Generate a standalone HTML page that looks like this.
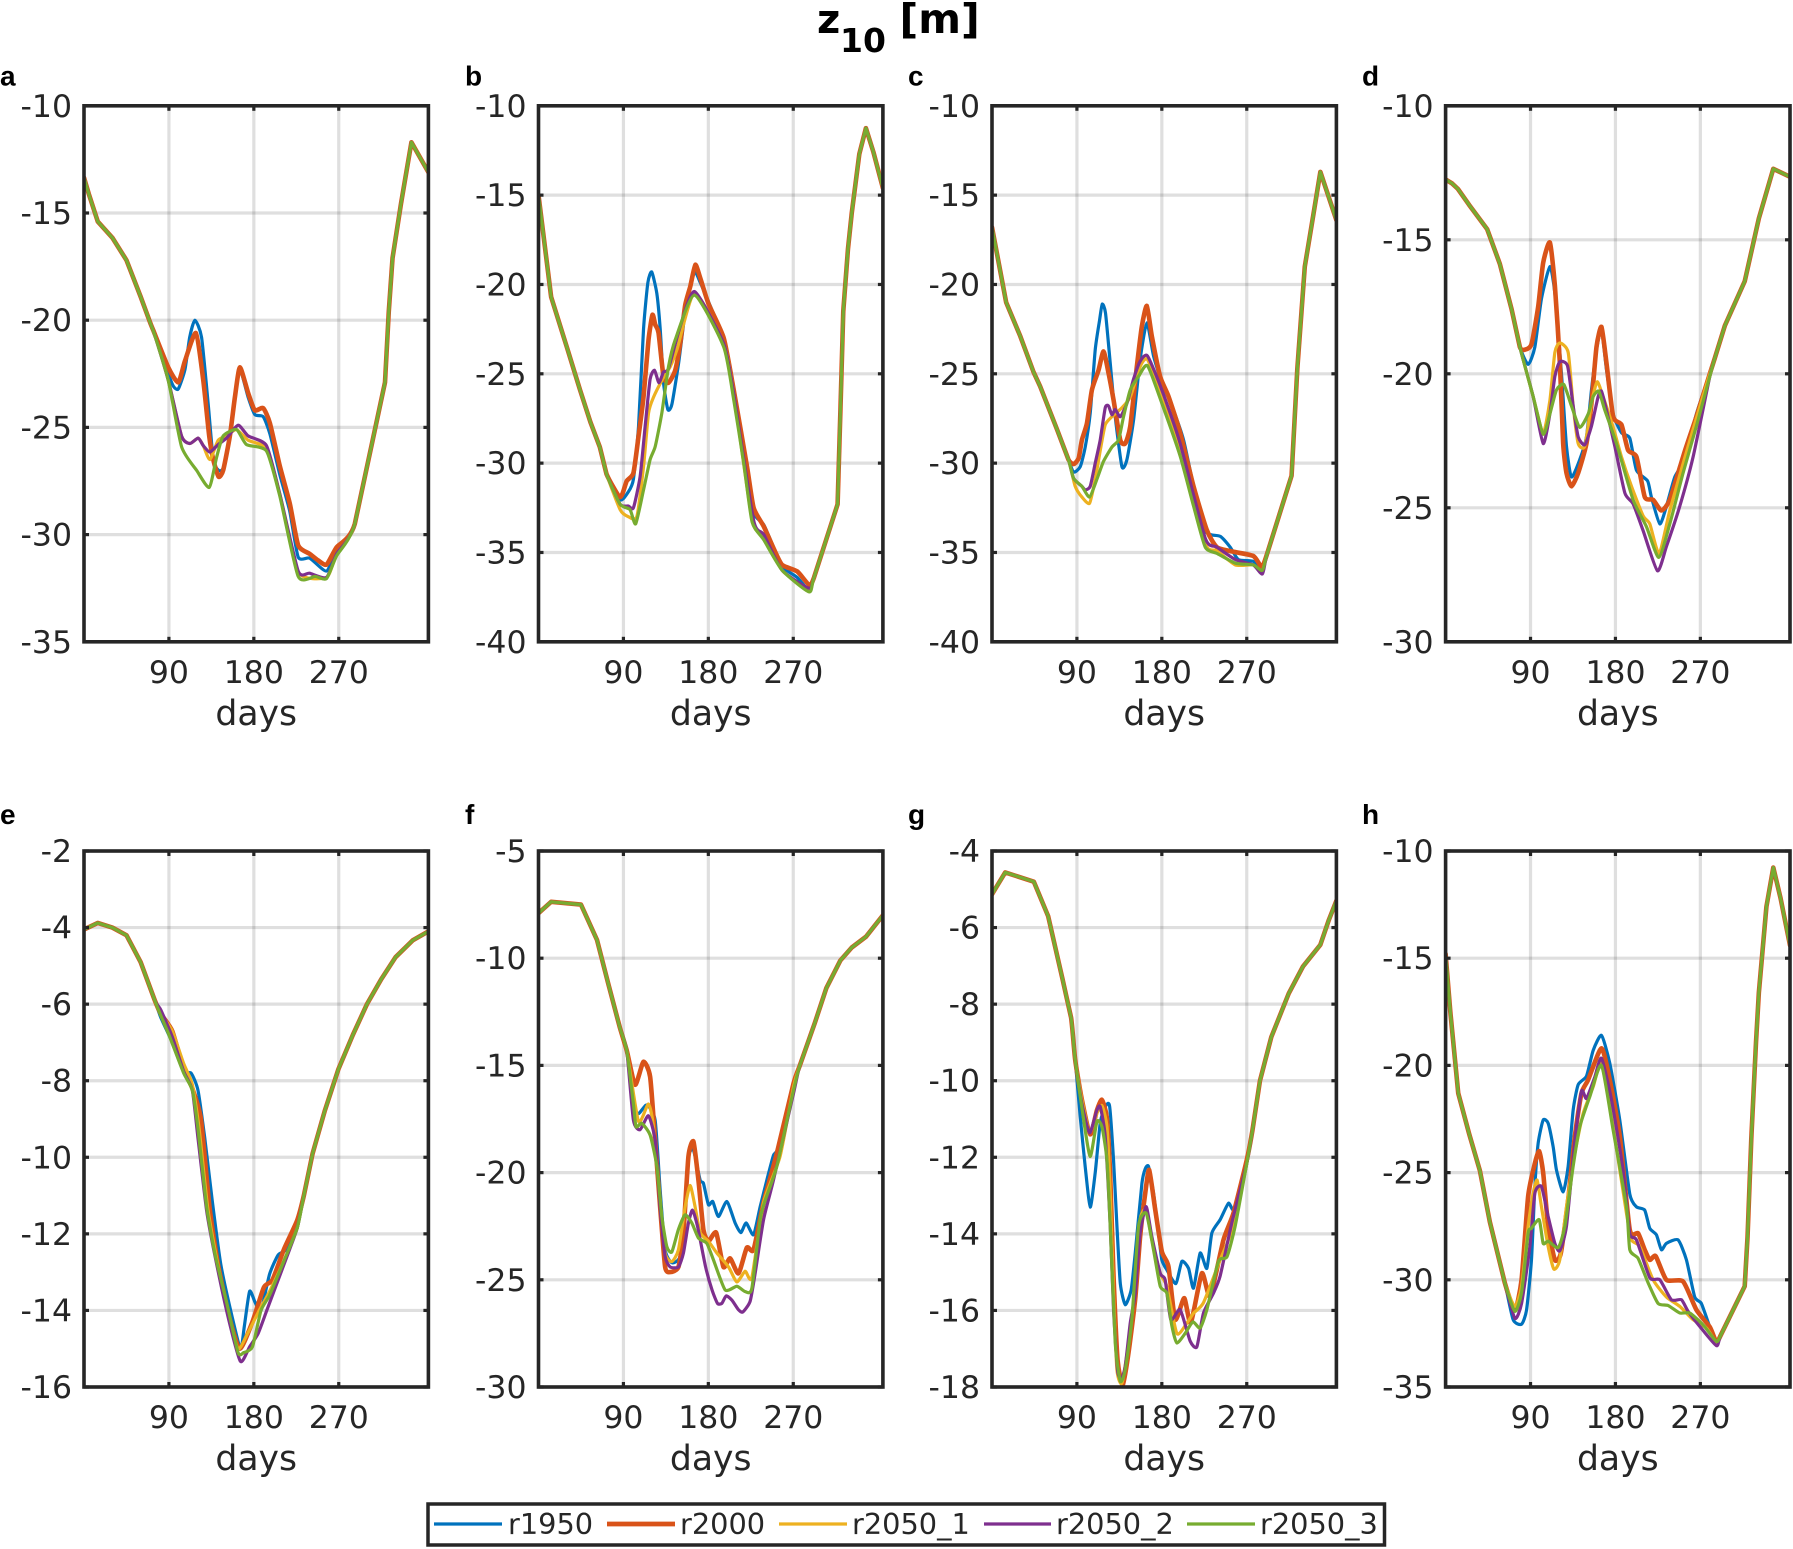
<!DOCTYPE html>
<html lang="en">
<head>
<meta charset="utf-8">
<title>z10 [m] seasonal panels</title>
<style>
html,body{margin:0;padding:0;background:#fff;}
svg{display:block;}
text{font-family:"DejaVu Sans","Liberation Sans",sans-serif;fill:#262626;}
.letter{font-family:"Liberation Sans",sans-serif;font-weight:bold;font-size:28px;fill:#000;}
.ttl{font-family:"DejaVu Sans",sans-serif;font-weight:bold;fill:#000;}
</style>
</head>
<body>
<svg id="fig" xmlns="http://www.w3.org/2000/svg" width="1793" height="1549" viewBox="0 0 1793 1549">
  <rect x="0" y="0" width="1793" height="1549" fill="#fff"/>
  <g id="panels"></g>
  <g>
    <text class="ttl" x="817" y="33" font-size="40">z</text>
    <text class="ttl" x="840" y="52" font-size="33">10</text>
    <text class="ttl" x="899.5" y="33" font-size="41">[m]</text>
  </g>
  <g>
    <rect x="428" y="1504" width="956.5" height="41" fill="#fff" stroke="#262626" stroke-width="3.5"/>
    <g>
      <line x1="434" x2="502" y1="1524" y2="1524" stroke="#0072BD" stroke-width="3.2"/>
      <text x="508" y="1534" font-size="28.8">r1950</text>
    </g>
    <g>
      <line x1="607" x2="675" y1="1524" y2="1524" stroke="#D95319" stroke-width="4.8"/>
      <text x="680" y="1534" font-size="28.8">r2000</text>
    </g>
    <g>
      <line x1="779" x2="847" y1="1524" y2="1524" stroke="#EDB120" stroke-width="3.2"/>
      <text x="852" y="1534" font-size="28.8">r2050_1</text>
    </g>
    <g>
      <line x1="984" x2="1051" y1="1524" y2="1524" stroke="#7E2F8E" stroke-width="3.2"/>
      <text x="1056" y="1534" font-size="28.8">r2050_2</text>
    </g>
    <g>
      <line x1="1187" x2="1255" y1="1524" y2="1524" stroke="#77AC30" stroke-width="3.2"/>
      <text x="1260" y="1534" font-size="28.8">r2050_3</text>
    </g>
  </g>
</svg>
<script>
// ---------- shared axis data ----------
const xTickValues = [90, 180, 270];
const xDomainMax = 365;
const seriesNames = ['r1950', 'r2000', 'r2050_1', 'r2050_2', 'r2050_3'];
const seriesColors = ['#0072BD', '#D95319', '#EDB120', '#7E2F8E', '#77AC30'];
const seriesWidths = [3.2, 4.6, 3.2, 3.2, 3.2];

// ---------- panel a ----------
const aTicks = [-10, -15, -20, -25, -30, -35];
const aHeadDays = [0, 5, 14.6, 30, 45, 60, 70];
const aHeadVals = [-13.35, -14.1, -15.4, -16.15, -17.2, -18.9, -20.1];
const aTailDays = [287, 319, 323, 327, 336, 347, 365];
const aTailVals = [-29.5, -22.9, -19.6, -17.1, -14.55, -11.7, -13.1];
const aDays1950 = [75, 89.3, 95, 100, 107, 112, 117.5, 124.6, 131.6, 137, 142.6, 147.5, 154.6, 159.9, 165.2, 174, 181, 189.9, 197, 207.5, 218, 227, 239.3, 257, 267.6];
const aVals1950 = [-20.7, -22.5, -23.1, -23.2, -22.3, -20.8, -20, -20.8, -23.9, -26.5, -27, -26.9, -25.5, -23.7, -22.3, -23.6, -24.4, -24.5, -25.3, -27.2, -28.9, -31.05, -31.1, -31.7, -30.7];
const aDays2000 = [73.4, 89.3, 99.9, 107, 118.6, 126.4, 132.7, 137, 142.6, 147.5, 154.6, 159.9, 165.2, 174, 181, 189.9, 197, 207.5, 218.1, 227, 239.3, 248, 257, 267.6];
const aVals2000 = [-20.47, -22.2, -22.9, -21.9, -20.6, -22.8, -25.4, -26.5, -27.3, -27, -25.4, -23.6, -22.2, -23.4, -24.2, -24.1, -24.8, -26.8, -28.55, -30.5, -30.9, -31.2, -31.4, -30.6];
const aDays2050a = [75, 89.3, 103.4, 112.2, 121, 126.4, 133.4, 142.2, 151, 161.6, 174, 193.4, 207.5, 227, 257, 267.6];
const aVals2050a = [-20.7, -22.8, -25.4, -25.75, -25.5, -25.85, -26.5, -25.6, -25.4, -25.1, -25.6, -26, -28.1, -31.75, -32, -30.9];
const aDays2050b = [75, 89.3, 103.4, 112.2, 121, 126.4, 133.4, 142.2, 151, 163.4, 174, 193.4, 207.5, 227, 239, 257, 267.6];
const aVals2050b = [-20.7, -22.8, -25.4, -25.75, -25.5, -25.85, -26.15, -25.8, -25.5, -24.9, -25.4, -25.85, -28.1, -31.7, -31.8, -32, -30.9];
const aDays2050c = [75, 89.3, 103.4, 119.3, 132.7, 140.5, 147.5, 161.6, 172.2, 193.4, 207.5, 227, 245, 257, 267.6];
const aVals2050c = [-20.7, -22.8, -25.9, -27, -27.8, -26.4, -25.4, -25.1, -25.8, -26.1, -28.2, -31.95, -31.95, -32.05, -31];

// ---------- panel b ----------
const bTicks = [-10, -15, -20, -25, -30, -35, -40];
const bHeadDays = [0, 13.4, 30, 44, 55, 65, 72];
const bHeadVals = [-15, -20.7, -23.5, -25.9, -27.7, -29.1, -30.6];
const bTailDays = [292, 317, 320, 323, 328, 332, 340, 347, 355, 365];
const bTailVals = [-36.4, -32.3, -27, -21.5, -18, -16, -12.7, -11.25, -12.6, -14.6];
const bDays1950 = [86.5, 95.3, 100.6, 106, 111.3, 115.9, 120, 125.4, 129, 132.5, 137.1, 141.4, 148.5, 153.8, 159, 165.5, 171.5, 182, 196.3, 206.9, 221, 228, 238.8, 249.4, 258.3, 274.2, 286.6];
const bVals1950 = [-32.05, -31.6, -30.9, -27.95, -22.5, -19.9, -19.3, -20.5, -22.5, -25.5, -27, -26.7, -24.4, -22.2, -20.5, -19.3, -19.9, -21.2, -23.1, -25.9, -30.4, -32.8, -33.45, -34.75, -35.8, -36.4, -37.1];
const bDays2000 = [86.5, 93.5, 100.6, 106, 111.3, 116.6, 120.8, 123.7, 127.2, 132.5, 137.8, 144.9, 150.2, 155.5, 160.9, 166.2, 171.5, 180.3, 196.3, 206.9, 221, 228, 238.8, 249.4, 258.3, 274.2, 286.6];
const bVals2000 = [-31.9, -31, -30.55, -28.5, -26.3, -23.1, -21.7, -22.25, -22.7, -25.15, -25.5, -24.8, -23.3, -21.15, -20.1, -18.9, -19.65, -21.1, -23, -25.9, -30.2, -32.5, -33.55, -34.8, -35.7, -36.06, -36.8];
const bDays2050a = [86.5, 95.3, 104.2, 111.3, 116.6, 122, 132.5, 139.6, 146.7, 165.5, 196.3, 206.9, 226.4, 238.8, 258.3, 286.6];
const bVals2050a = [-32.6, -33, -33, -30.2, -27.2, -26.3, -25.2, -24.6, -23.65, -20.5, -23.3, -26.1, -33.2, -34.1, -36, -37.1];
const bDays2050b = [86.5, 95.3, 100.6, 107.7, 113, 118.3, 123, 127.6, 132.5, 137.8, 150.2, 165.5, 196.3, 206.9, 228, 238.8, 258.3, 286.6];
const bVals2050b = [-32.3, -32.4, -32.5, -30.75, -27.95, -25.3, -24.8, -25.5, -24.9, -24.7, -22.35, -20.4, -23.3, -26.1, -33.2, -34, -36, -37];
const bDays2050c = [86.5, 97, 103, 111.3, 118.3, 123.7, 130.7, 137.8, 144.9, 165.5, 196.3, 206.9, 217.5, 226.4, 238.8, 258.3, 286.6];
const bVals2050c = [-32.3, -32.6, -33.4, -31.5, -29.8, -29.07, -27.2, -24.6, -23.1, -20.6, -23.5, -26.45, -30, -33.3, -34.3, -36, -37.2];

// ---------- panel c ----------
const cTicks = [-10, -15, -20, -25, -30, -35, -40];
const cHeadDays = [0, 5, 15, 30, 44, 51, 68.8, 81];
const cHeadVals = [-16.8, -18.2, -21, -22.9, -24.9, -25.7, -28.1, -29.8];
const cTailDays = [292, 317.5, 323.6, 331.5, 339, 348, 365];
const cTailVals = [-35, -30.7, -24.7, -19, -16.6, -13.7, -16.4];
const cDays1950 = [86.5, 93.5, 98.8, 104.1, 109.4, 114, 116.8, 120.3, 125.3, 130.6, 137.7, 143, 150, 157, 164.1, 171.2, 180, 190.6, 203, 215.3, 227, 242, 252.4, 261.2, 277, 286];
const cVals1950 = [-30.5, -30.2, -29.1, -27.2, -23.65, -22, -21.1, -21.6, -24.4, -27.4, -30.2, -29.8, -27.6, -24.2, -22.15, -24, -25.5, -26.8, -28.7, -31.7, -33.85, -34.1, -34.7, -35.4, -35.5, -36.1];
const cDays2000 = [86.5, 91.8, 95.3, 100.6, 105.9, 112.9, 118.2, 123.5, 128.8, 135.9, 141.2, 146.5, 153.5, 158.8, 164.1, 169.4, 178.2, 187.1, 199.4, 213.6, 227.7, 238.3, 256, 277.1, 285.9];
const cVals2000 = [-30.05, -29.73, -28.7, -27.77, -25.9, -24.8, -23.75, -24.96, -26.46, -28.7, -28.9, -27.95, -24.6, -22.35, -21.2, -22.9, -25.15, -26.27, -28.3, -31.3, -33.75, -34.7, -34.96, -35.2, -35.8];
const cDays2050a = [88.2, 95.3, 103.4, 109.4, 114.7, 120, 127.1, 137.7, 146.5, 157, 164.8, 180, 199.4, 226, 238.3, 258, 277, 286];
const cVals2050a = [-31.3, -31.9, -32.25, -30.9, -29.3, -27.85, -27.4, -26.9, -26.3, -24.6, -24.2, -26.3, -29.3, -34.5, -34.9, -35.7, -35.7, -36.1];
const cDays2050b = [86.5, 95.3, 98.8, 104.1, 109.4, 114.7, 120, 123.5, 127.1, 130.6, 135.9, 143, 150, 157, 164.8, 180, 199.4, 226, 238.3, 258, 277, 286.6];
const cVals2050b = [-30.85, -31.3, -31.5, -31.3, -30, -28.7, -26.9, -26.8, -27.3, -27, -27.4, -26.65, -25.3, -24.3, -24, -25.9, -28.9, -34.2, -34.7, -35.4, -35.7, -36.2];
const cDays2050c = [86.5, 95.3, 103.4, 111.2, 118.2, 127.1, 134.1, 139.4, 146.5, 155.3, 164.8, 180, 199.4, 213.6, 226, 238.3, 258, 277, 286.6];
const cVals2050c = [-30.85, -31.3, -31.9, -30.9, -29.9, -29.1, -28.7, -27.4, -25.9, -25.15, -24.55, -26.65, -29.6, -32.4, -34.7, -35.05, -35.6, -35.7, -36];

// ---------- panel d ----------
const dTicks = [-10, -15, -20, -25, -30];
const dHeadDays = [0, 7, 13, 25, 44, 57.5, 70, 78.7];
const dHeadVals = [-12.75, -12.9, -13.1, -13.7, -14.6, -15.9, -17.6, -19];
const dTailDays = [285, 296, 317, 332, 347.3, 365];
const dTailVals = [-19.45, -18.2, -16.55, -14.2, -12.35, -12.65];
const dDays1950 = [87.5, 94.6, 101.6, 110.5, 115.8, 122.8, 128.1, 133.4, 142.2, 149.3, 154.6, 159.9, 165.2, 170.5, 177.6, 186.4, 195.2, 202.3, 214.1, 218.1, 227, 234, 242.9, 253.4, 265.8, 280];
const dVals1950 = [-19.65, -19, -17.2, -16, -17, -20, -22.7, -23.85, -23.2, -22.35, -20.6, -19.1, -18.35, -19.85, -21.5, -22.2, -22.4, -23.6, -24, -24.6, -25.6, -24.95, -23.85, -23.2, -21.5, -20];
const dDays2000 = [84, 91, 98.1, 103.4, 110.5, 115.8, 121.1, 124.6, 128.1, 133.4, 140.5, 149.3, 154.6, 159.9, 165.2, 170.5, 177.6, 186.4, 193.4, 202.3, 211.1, 219.9, 228.7, 237.6, 253.4, 265.8, 280];
const dVals2000 = [-19.1, -18.9, -17.5, -15.86, -15.1, -16.7, -19.6, -22.6, -23.7, -24.2, -23.7, -22.6, -21.1, -19, -18.25, -19.6, -21.6, -21.9, -22.85, -23.1, -24.6, -24.7, -25.1, -24.7, -22.9, -21.6, -20];
const dDays2050a = [92.8, 103.4, 110.5, 115.8, 121, 129.9, 135.2, 140.5, 147.5, 154.6, 160.6, 166.9, 177.6, 186.4, 197, 209.3, 216.4, 226.3, 237.6, 251.7, 265.8, 280];
const dVals2050a = [-20.85, -22.2, -21, -19.2, -18.85, -19.2, -21.2, -22.6, -22.7, -21.1, -20.3, -20.85, -22, -23.1, -24.2, -25.3, -25.6, -26.7, -25.1, -23.35, -21.65, -20];
const dDays2050b = [92.8, 103.4, 110.5, 115.8, 121, 129.2, 135.2, 140.5, 147.5, 154.6, 161.7, 165.2, 170.5, 179.3, 190, 198.7, 209.3, 224.5, 234, 248.1, 262.3, 280];
const dVals2050b = [-20.85, -22.6, -21.5, -20.1, -19.55, -19.7, -21.2, -22.35, -22.65, -21.95, -20.85, -20.65, -21.35, -22.7, -24.45, -24.85, -25.85, -27.35, -26.45, -24.95, -23.1, -20.1];
const dDays2050c = [92.8, 103.4, 110.5, 117.5, 125.3, 133.4, 142.2, 151.1, 156.4, 162.4, 168.7, 181.1, 198.7, 212.8, 225.9, 237.6, 251.7, 265.8, 280];
const dVals2050c = [-20.85, -22.25, -21.5, -20.6, -20.4, -21.2, -22, -21.5, -20.85, -20.65, -21.35, -22.6, -24.7, -25.7, -26.85, -25.6, -23.7, -21.95, -20.1];

// ---------- panel e ----------
const eTicks = [-2, -4, -6, -8, -10, -12, -14, -16];
const eHeadDays = [0, 14.6, 30, 45, 60, 75];
const eHeadVals = [-4.05, -3.88, -4, -4.2, -4.9, -5.9];
const eTailDays = [233, 242.3, 255, 269.6, 285, 299.9, 315, 330.3, 348.5, 365];
const eTailVals = [-11, -9.9, -8.8, -7.7, -6.8, -6, -5.35, -4.77, -4.33, -4.1];
const eDays1950 = [81.4, 93.5, 105.6, 113.5, 120.8, 128, 136, 145, 157.3, 166, 170, 175.5, 181.5, 187.6, 196.7, 205.8, 215, 225.9];
const eVals1950 = [-6.35, -7, -7.77, -7.8, -8.25, -9.5, -11.15, -12.8, -14.2, -15, -14.4, -13.5, -13.8, -14, -13.05, -12.55, -12.4, -11.85];
const eDays2000 = [81.4, 93.5, 105.6, 114.8, 123.9, 133, 142, 154.2, 165.2, 178.5, 190.6, 199.8, 212, 225.9];
const eVals2000 = [-6.25, -6.7, -7.7, -8.2, -9, -11.3, -12.8, -14.2, -15, -14.3, -13.4, -13.2, -12.4, -11.65];
const eDays2050a = [81.4, 93.5, 105.6, 114.8, 122, 131, 141, 153, 163.3, 172.4, 184.6, 196.7, 212, 225.9];
const eVals2050a = [-6.25, -6.7, -7.55, -8.1, -9.25, -11.3, -12.7, -14.1, -15, -14.65, -14.05, -13.5, -12.7, -11.85];
const eDays2050b = [81.4, 93.5, 105.6, 114.8, 120.8, 130, 139, 153, 165.8, 175.5, 184.6, 193.7, 202.8, 218, 225.9];
const eVals2050b = [-6.15, -6.85, -7.75, -8.25, -9.5, -11.4, -12.6, -14.2, -15.33, -14.95, -14.6, -14, -13.4, -12.4, -11.85];
const eDays2050c = [81.4, 90, 105.6, 114.8, 120.8, 130, 139, 151.2, 163.3, 169.4, 178.5, 187.6, 196.7, 212, 225.9];
const eVals2050c = [-6.3, -6.8, -7.8, -8.25, -9.26, -11.3, -12.55, -13.8, -15.1, -15.1, -14.95, -14, -13.6, -12.7, -11.85];

// ---------- panel f ----------
const fTicks = [-5, -10, -15, -20, -25, -30];
const fHeadDays = [0, 13.4, 45, 62, 74, 86];
const fHeadVals = [-7.9, -7.37, -7.5, -9.15, -11.2, -13.2];
const fTailDays = [277, 293, 305, 320, 332, 347, 365];
const fTailVals = [-15, -13, -11.4, -10.1, -9.5, -9, -8];
const fDays1950 = [93.5, 100.6, 105.9, 114.7, 123.6, 128.9, 134.2, 141.3, 150, 155.4, 158.9, 164.2, 171.3, 174.8, 180.1, 184.7, 190.7, 199.6, 208.4, 214.4, 220.1, 227.9, 234.9, 242, 249, 254.4, 270.3];
const fVals1950 = [-14.3, -16.8, -17.25, -16.85, -17.55, -20.8, -23.6, -24.2, -23.9, -21.6, -19.25, -18.95, -20.35, -20.5, -21.5, -21.35, -22.05, -21.35, -22.35, -22.8, -22.35, -22.9, -21.6, -20.35, -19.2, -18.8, -15.84];
const fDays2000 = [93.5, 102.4, 111.2, 118.3, 123.6, 128.9, 134.2, 139.5, 148.3, 153.6, 158.9, 164.2, 169.5, 174.8, 180.1, 188.3, 196, 203.1, 211.9, 220.8, 227.9, 238.5, 252.6, 270.3];
const fVals2000 = [-14.3, -15.9, -14.83, -15.53, -18.5, -21.6, -24.4, -24.64, -24.4, -22.8, -19.25, -18.55, -20.35, -22.67, -23.2, -22.8, -24.4, -24, -24.7, -23.5, -23.6, -21.4, -19.1, -15.84];
const fDays2050a = [93.5, 105.9, 116.5, 121.8, 128.9, 134.2, 141.3, 148.3, 155.4, 160.7, 166, 171.3, 180.1, 189, 201.4, 210.2, 219, 226.1, 238.5, 256, 270.3];
const fVals2050a = [-14.3, -17.6, -16.8, -17.85, -21.3, -23.75, -24.15, -23.6, -21.6, -20.6, -21.6, -22.8, -23.2, -23.75, -24.4, -25.1, -24.6, -24.9, -21.4, -19.25, -16];
const fDays2050b = [93.5, 100.6, 107.7, 116.5, 123.6, 128.9, 134.2, 139.5, 148.3, 153.6, 158.9, 163.2, 168.5, 177.1, 184.1, 189.7, 194.3, 198.9, 205, 212, 216.6, 224.3, 229.6, 238.5, 249, 270.3];
const fVals2050b = [-14.3, -17.55, -18, -17.35, -18.5, -21.6, -23.9, -24.4, -24.4, -23.75, -22.35, -21.75, -22.5, -24.4, -25.5, -26.1, -26.1, -25.75, -25.95, -26.4, -26.5, -26, -24.7, -22.2, -20.35, -16.3];
const fDays2050c = [93.5, 100.6, 103.4, 109.4, 118.3, 125.4, 130.7, 136, 141.3, 148.3, 155.4, 162.5, 169.5, 178.4, 185.4, 197.8, 210.2, 219, 226.1, 234.9, 240.2, 252.6, 270.3];
const fVals2050c = [-14.3, -16.8, -17.86, -17.7, -18.25, -19.7, -22.05, -23.45, -23.7, -22.65, -21.97, -22.35, -23.05, -23.3, -24.07, -25.47, -25.3, -25.55, -25.4, -22.2, -21.3, -19.7, -16.15];

// ---------- panel g ----------
const gTicks = [-4, -6, -8, -10, -12, -14, -16, -18];
const gHeadDays = [0, 14, 44.3, 59.5, 74.7, 83.8];
const gHeadVals = [-5.13, -4.56, -4.8, -5.7, -7.34, -8.35];
const gTailDays = [276, 284, 296, 314.5, 329.5, 348, 357, 365];
const gTailVals = [-11.3, -10, -8.86, -7.72, -7.02, -6.45, -5.8, -5.3];
const gDays1950 = [88.2, 93.5, 98.8, 104.1, 109.4, 114.7, 120, 124.6, 128.8, 132.4, 136, 141.2, 147.5, 151.8, 158.9, 162.4, 165.9, 171.2, 176.5, 180, 185.3, 194.8, 201.2, 208.3, 213.6, 220.6, 227.7, 233, 241.8, 250.6, 256, 264.7, 270];
const gVals1950 = [-9.46, -10.94, -12.25, -13.3, -12.4, -11.1, -10.68, -10.66, -12.07, -13.8, -15.3, -15.85, -15.46, -14.5, -12.68, -12.3, -12.24, -12.94, -13.98, -14.68, -14.94, -15.3, -14.72, -14.9, -15.42, -14.5, -14.9, -13.98, -13.63, -13.2, -13.37, -12.77, -12.16];
const gDays2000 = [88.2, 95.3, 104.1, 111.2, 116.5, 121.8, 125.3, 128.8, 133.1, 138.7, 144.7, 151.8, 157, 162.4, 166.6, 173, 180, 187, 194.1, 203.7, 210.7, 222.4, 231.2, 245.3, 255.9, 270];
const gVals2000 = [-9.46, -10.5, -11.4, -10.77, -10.5, -10.98, -12.5, -15.1, -17.3, -17.95, -17.1, -15.7, -14.07, -12.94, -12.33, -13.37, -14.46, -14.85, -16.24, -15.68, -16.33, -15.03, -15.63, -14.16, -13.46, -12.07];
const gDays2050a = [88.2, 95.3, 103.4, 111.2, 116.5, 121.8, 125.3, 128.8, 132.4, 137.7, 144.7, 151.8, 157, 163.4, 169.4, 178.3, 185.3, 195.9, 206.5, 213.6, 224.1, 241.8, 255.9, 270];
const gVals2050a = [-9.46, -10.5, -11.35, -10.85, -10.65, -11.2, -12.9, -15.55, -17.55, -17.9, -16.85, -15.37, -13.63, -13.37, -14.16, -15.03, -15.37, -16.6, -16.33, -16.07, -15.8, -14.68, -13.8, -12.16];
const gDays2050b = [88.2, 95.3, 103.4, 111.2, 114.7, 120, 125.3, 128.8, 133, 136.9, 141.2, 146.5, 151.8, 157, 163.4, 169.4, 178.3, 183.5, 189.5, 199.4, 210, 217.1, 224.1, 234.7, 241.8, 254.1, 270];
const gVals2050b = [-9.46, -10.6, -11.36, -10.77, -10.68, -11.46, -13.8, -15.98, -17.55, -17.8, -17.46, -16.33, -15.55, -13.98, -13.29, -14.07, -15.03, -15.2, -16.24, -15.98, -16.8, -16.95, -16.07, -15.55, -15.1, -13.72, -12.16];
const gDays2050c = [88.2, 97, 104.1, 111.2, 116.5, 121.8, 125.3, 130.6, 136, 141.2, 148.2, 155.3, 163.4, 171.2, 178.3, 185.3, 190.6, 195.9, 204.7, 212.9, 220.6, 227.7, 240, 249, 257.7, 270];
const gVals2050c = [-9.46, -11, -11.98, -11.07, -11.2, -12.07, -13.8, -16.85, -17.85, -17.55, -16.24, -13.8, -13.46, -14.42, -15.37, -15.55, -16.4, -16.85, -16.6, -16.3, -16.46, -15.98, -14.72, -14.6, -13.8, -12.16];

// ---------- panel h ----------
const hTicks = [-10, -15, -20, -25, -30, -35];
const hHeadDays = [0, 5, 13.4, 25, 36.3, 46.9, 62.8];
const hHeadVals = [-14.8, -17.5, -21.3, -23.2, -24.9, -27.3, -30.15];
const hTailDays = [292, 317, 320, 324, 329, 332, 340, 347.3, 355, 365];
const hTailVals = [-32.55, -30.3, -28, -23.4, -18.9, -16.6, -12.6, -10.77, -12.2, -14.4];
const hDays1950 = [71.6, 80.5, 85.8, 91, 94.6, 98.1, 103.4, 108.7, 114, 117.5, 124.6, 129.9, 135.2, 140.5, 149.3, 156.4, 165.2, 174, 184.6, 195.2, 202.3, 211, 216.4, 223.4, 228.7, 234, 246.4, 255.2, 264, 271, 280, 287];
const hVals1950 = [-31.86, -32.07, -31.4, -29.07, -25.65, -23.63, -22.55, -22.7, -23.8, -24.88, -25.9, -24.7, -22.08, -20.9, -20.5, -19.3, -18.6, -19.9, -22.55, -26, -26.6, -26.75, -27.6, -27.9, -28.6, -28.3, -28.14, -29.07, -30.8, -31.1, -32.2, -32.95];
const hDays2000 = [73.4, 80.5, 87.5, 94.6, 99.2, 103.4, 108.7, 115.8, 122.1, 129.9, 137, 144, 151, 165.2, 174, 184.6, 195.2, 204, 211, 216.4, 222.7, 234, 251.7, 265.8, 280, 287];
const hVals2000 = [-31.4, -30, -26.1, -24.57, -24, -25, -27.5, -29.07, -28.76, -26.27, -23.3, -21.3, -20.68, -19.2, -20.68, -23.3, -27.67, -27.83, -28.6, -29.07, -28.9, -30, -30.08, -31.4, -32.2, -32.9];
const hDays2050a = [73.4, 80.5, 87.5, 92.8, 97, 101.6, 108.7, 114.7, 121, 128.1, 137, 145.8, 156.4, 165.2, 177.5, 191.7, 197, 205.8, 219.9, 234, 248.2, 262.3, 276.4, 287];
const hVals2050a = [-31.24, -30.3, -27.5, -25.96, -25.35, -26.6, -28.45, -29.5, -29.07, -26.6, -24.1, -22.24, -21, -19.9, -22.86, -26.9, -28.14, -28.45, -30, -30.8, -31.24, -31.86, -32.25, -32.9];
const hDays2050b = [73.4, 80.5, 89.3, 94.6, 101.6, 108.7, 115.8, 121, 128.1, 137, 144, 149.3, 158.2, 165.2, 175.8, 188.1, 195.2, 202.3, 216.4, 227, 239.3, 249.9, 257, 269.3, 287];
const hVals2050b = [-31.8, -31.1, -28.45, -25.96, -25.65, -27.05, -28.3, -28.65, -27.5, -23.5, -21.2, -21.54, -20.53, -19.67, -21.6, -24.88, -27.83, -28.14, -29.9, -30, -30.93, -30.93, -31.47, -32.17, -33.07];
const hDays2050c = [73.4, 80.5, 87.5, 91, 99.2, 103.4, 108.7, 119.3, 126.4, 135.2, 142.2, 152.8, 165.2, 177.5, 191.7, 195.2, 204, 214.7, 225.2, 235.9, 248.2, 258.8, 272.9, 287];
const hVals2050c = [-31.47, -30.6, -27.83, -27.6, -27.2, -28.3, -28.2, -28.5, -27.5, -24.7, -22.86, -21.46, -20, -23, -26.6, -28.6, -29, -30.15, -31.1, -31.2, -31.55, -31.55, -32.1, -32.87];

// ---------- layout constants ----------
const colLefts = [84, 538.5, 992, 1445.6];
const rowTops = [105.8, 851];
const letterLefts = [0, 465, 908, 1362];
const letterBaselines = [85.3, 824];
const axesWidth = 344.4;
const axesHeight = 536;

const panels = [
  {id:'a', c:0, r:0, ticks:aTicks, hd:aHeadDays, hv:aHeadVals, td:aTailDays, tv:aTailVals, s:[[aDays1950,aVals1950],[aDays2000,aVals2000],[aDays2050a,aVals2050a],[aDays2050b,aVals2050b],[aDays2050c,aVals2050c]]},
  {id:'b', c:1, r:0, ticks:bTicks, hd:bHeadDays, hv:bHeadVals, td:bTailDays, tv:bTailVals, s:[[bDays1950,bVals1950],[bDays2000,bVals2000],[bDays2050a,bVals2050a],[bDays2050b,bVals2050b],[bDays2050c,bVals2050c]]},
  {id:'c', c:2, r:0, ticks:cTicks, hd:cHeadDays, hv:cHeadVals, td:cTailDays, tv:cTailVals, s:[[cDays1950,cVals1950],[cDays2000,cVals2000],[cDays2050a,cVals2050a],[cDays2050b,cVals2050b],[cDays2050c,cVals2050c]]},
  {id:'d', c:3, r:0, ticks:dTicks, hd:dHeadDays, hv:dHeadVals, td:dTailDays, tv:dTailVals, s:[[dDays1950,dVals1950],[dDays2000,dVals2000],[dDays2050a,dVals2050a],[dDays2050b,dVals2050b],[dDays2050c,dVals2050c]]},
  {id:'e', c:0, r:1, ticks:eTicks, hd:eHeadDays, hv:eHeadVals, td:eTailDays, tv:eTailVals, s:[[eDays1950,eVals1950],[eDays2000,eVals2000],[eDays2050a,eVals2050a],[eDays2050b,eVals2050b],[eDays2050c,eVals2050c]]},
  {id:'f', c:1, r:1, ticks:fTicks, hd:fHeadDays, hv:fHeadVals, td:fTailDays, tv:fTailVals, s:[[fDays1950,fVals1950],[fDays2000,fVals2000],[fDays2050a,fVals2050a],[fDays2050b,fVals2050b],[fDays2050c,fVals2050c]]},
  {id:'g', c:2, r:1, ticks:gTicks, hd:gHeadDays, hv:gHeadVals, td:gTailDays, tv:gTailVals, s:[[gDays1950,gVals1950],[gDays2000,gVals2000],[gDays2050a,gVals2050a],[gDays2050b,gVals2050b],[gDays2050c,gVals2050c]]},
  {id:'h', c:3, r:1, ticks:hTicks, hd:hHeadDays, hv:hHeadVals, td:hTailDays, tv:hTailVals, s:[[hDays1950,hVals1950],[hDays2000,hVals2000],[hDays2050a,hVals2050a],[hDays2050b,hVals2050b],[hDays2050c,hVals2050c]]}
];

const NS = 'http://www.w3.org/2000/svg';
const root = document.getElementById('panels');

function make(tag, attrs, parent) {
  const el = document.createElementNS(NS, tag);
  for (const k in attrs) el.setAttribute(k, attrs[k]);
  parent.appendChild(el);
  return el;
}

// Head and tail stretches are drawn straight so their knees stay sharp; the divergent middle is lightly smoothed.
function smoothPath(pts, headCount, tailCount) {
  let d = 'M' + pts[0][0].toFixed(2) + ' ' + pts[0][1].toFixed(2);
  for (let i = 0; i < pts.length - 1; i++) {
    const straight = i < headCount - 1 || i >= pts.length - tailCount;
    const k = straight ? 0 : 1 / 10;
    const p0 = pts[Math.max(i - 1, 0)], p1 = pts[i], p2 = pts[i + 1], p3 = pts[Math.min(i + 2, pts.length - 1)];
    const c1x = p1[0] + (p2[0] - p0[0]) * k, c1y = p1[1] + (p2[1] - p0[1]) * k;
    const c2x = p2[0] - (p3[0] - p1[0]) * k, c2y = p2[1] - (p3[1] - p1[1]) * k;
    d += 'C' + c1x.toFixed(2) + ' ' + c1y.toFixed(2) + ' ' + c2x.toFixed(2) + ' ' + c2y.toFixed(2) + ' ' + p2[0].toFixed(2) + ' ' + p2[1].toFixed(2);
  }
  return d;
}

panels.forEach(function (p) {
  const left = colLefts[p.c], top = rowTops[p.r], right = left + axesWidth, bottom = top + axesHeight;
  const yHi = Math.max.apply(null, p.ticks), yLo = Math.min.apply(null, p.ticks);
  const xScale = function (d) { return left + d / xDomainMax * axesWidth; };
  const yScale = function (v) { return top + (yHi - v) / (yHi - yLo) * axesHeight; };

  const g = make('g', {}, root);
  
  

  const letter = make('text', {class:'letter', x:letterLefts[p.c], y:letterBaselines[p.r]}, g);
  letter.textContent = p.id;
  
  

  const clipId = 'clip-' + p.id;
  const defs = make('defs', {}, g);
  
  
  const clip = make('clipPath', {id:clipId}, defs);
  make('rect', {x:left - 1, y:top - 1, width:axesWidth + 2, height:axesHeight + 2}, clip);

  // grid
  xTickValues.forEach(function (t) {
    const gl = make('line', {x1:xScale(t), x2:xScale(t), y1:top, y2:bottom, stroke:'#262626', 'stroke-opacity':0.15, 'stroke-width':3.2}, g);
    
    
  });
  p.ticks.forEach(function (t) {
    const gl = make('line', {x1:left, x2:right, y1:yScale(t), y2:yScale(t), stroke:'#262626', 'stroke-opacity':0.15, 'stroke-width':3.2}, g);
    
    
  });

  // series
  p.s.forEach(function (ser, i) {
    const days = p.hd.concat(ser[0], p.td);
    const vals = p.hv.concat(ser[1], p.tv);
    const pts = days.map(function (d, j) { return [xScale(d), yScale(vals[j])]; });
    const path = make('path', {d:smoothPath(pts, p.hd.length, p.td.length), fill:'none', stroke:seriesColors[i], 'stroke-width':seriesWidths[i], 'stroke-linejoin':'round', 'stroke-linecap':'round', 'clip-path':'url(#' + clipId + ')'}, g);
    
    
  });

  // ticks and labels
  xTickValues.forEach(function (t) {
    const x = xScale(t);
    const tb = make('line', {x1:x, x2:x, y1:bottom, y2:bottom - 5, stroke:'#262626', 'stroke-width':3.2}, g);
    
    
    const tt = make('line', {x1:x, x2:x, y1:top, y2:top + 5, stroke:'#262626', 'stroke-width':3.2}, g);
    
    
    const lab = make('text', {x:x, y:bottom + 41, 'text-anchor':'middle', 'font-size':31.5}, g);
    lab.textContent = String(t);
    
    
  });
  p.ticks.forEach(function (t) {
    const y = yScale(t);
    const tl = make('line', {x1:left, x2:left + 5, y1:y, y2:y, stroke:'#262626', 'stroke-width':3.2}, g);
    
    
    const tr = make('line', {x1:right, x2:right - 5, y1:y, y2:y, stroke:'#262626', 'stroke-width':3.2}, g);
    
    
    const lab = make('text', {x:left - 12, y:y + 11, 'text-anchor':'end', 'font-size':31.5}, g);
    lab.textContent = String(t);
    
    
  });

  const box = make('rect', {x:left, y:top, width:axesWidth, height:axesHeight, fill:'none', stroke:'#262626', 'stroke-width':3.6}, g);
  
  

  const xl = make('text', {x:(left + right) / 2, y:bottom + 83, 'text-anchor':'middle', 'font-size':34.6}, g);
  xl.textContent = 'days';
  
  
});
</script>
</body>
</html>
